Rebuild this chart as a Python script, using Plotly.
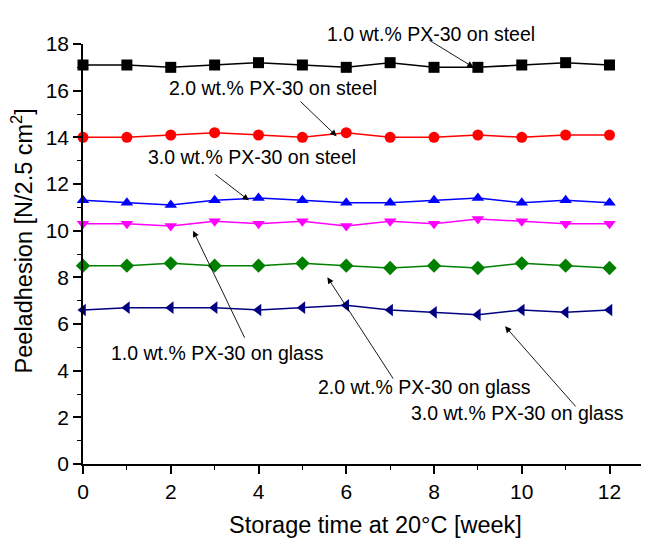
import plotly.graph_objects as go

weeks = list(range(13))
steel_1 = [17.1, 17.1, 17.0, 17.1, 17.2, 17.1, 17.0, 17.2, 17.0, 17.0, 17.1, 17.2, 17.1]
steel_2 = [14.0, 14.0, 14.1, 14.2, 14.1, 14.0, 14.2, 14.0, 14.0, 14.1, 14.0, 14.1, 14.1]
steel_3 = [11.3, 11.2, 11.1, 11.3, 11.4, 11.3, 11.2, 11.2, 11.3, 11.4, 11.2, 11.3, 11.2]
glass_1 = [10.3, 10.3, 10.2, 10.4, 10.3, 10.4, 10.2, 10.4, 10.3, 10.5, 10.4, 10.3, 10.3]
glass_2 = [8.5, 8.5, 8.6, 8.5, 8.5, 8.6, 8.5, 8.4, 8.5, 8.4, 8.6, 8.5, 8.4]
glass_3 = [6.6, 6.7, 6.7, 6.7, 6.6, 6.7, 6.8, 6.6, 6.5, 6.4, 6.6, 6.5, 6.6]

series = [
    (steel_1, "1.0 wt.% PX-30 on steel", "black", "square"),
    (steel_2, "2.0 wt.% PX-30 on steel", "red", "circle"),
    (steel_3, "3.0 wt.% PX-30 on steel", "blue", "triangle-up"),
    (glass_1, "1.0 wt.% PX-30 on glass", "magenta", "triangle-down"),
    (glass_2, "2.0 wt.% PX-30 on glass", "green", "diamond"),
    (glass_3, "3.0 wt.% PX-30 on glass", "navy", "triangle-left"),
]

# label text positions (data coords) and arrow tail/head
labels = [
    ("1.0 wt.% PX-30 on steel", 7.94, 19.0, (7.86, 18.2), (8.9, 17.0)),
    ("2.0 wt.% PX-30 on steel", 4.33, 16.1, (4.92, 15.6), (5.78, 14.05)),
    ("3.0 wt.% PX-30 on steel", 3.86, 13.16, (2.98, 12.46), (3.78, 11.3)),
    ("1.0 wt.% PX-30 on glass", 3.06, 4.76, (3.70, 5.35), (2.51, 10.0)),
    ("2.0 wt.% PX-30 on glass", 7.78, 3.3, (7.09, 3.6), (5.57, 8.0)),
    ("3.0 wt.% PX-30 on glass", 9.9, 2.19, (11.26, 2.4), (9.62, 5.9)),
]
x_title = "Storage time at 20°C [week]"
y_title = "Peeladhesion [N/2.5 cm<sup>2</sup>]"
y_max = 18

fig = go.Figure()
for ys, name, color, sym in series:
    fig.add_trace(go.Scatter(
        x=weeks, y=ys, mode="lines+markers", name=name,
        line=dict(color=color, width=1.5),
        marker=dict(color=color, symbol=sym, size=11),
        cliponaxis=False,
    ))

for text, tx, ty, tail, head in labels:
    if ty > y_max:
        fig.add_annotation(x=tx, y=ty / y_max, xref="x", yref="paper", text=text,
                           showarrow=False, font=dict(size=19.5, color="black"))
    else:
        fig.add_annotation(x=tx, y=ty, xref="x", yref="y", text=text, showarrow=False,
                           font=dict(size=19.5, color="black"))
    fig.add_annotation(x=head[0], y=head[1], ax=tail[0], ay=tail[1],
                       xref="x", yref="y", axref="x", ayref="y", text="",
                       showarrow=True, arrowhead=2, arrowsize=1.4, arrowwidth=0.9,
                       arrowcolor="black")

# axis titles as annotations (placed like the reference, slightly off-centre)
fig.add_annotation(x=0.516, y=-0.145, xref="paper", yref="paper", text=x_title,
                   showarrow=False, xanchor="center", yanchor="middle",
                   font=dict(size=23.5, color="black"))
fig.add_annotation(x=-0.107, y=0.531, xref="paper", yref="paper", text=y_title,
                   showarrow=False, xanchor="center", yanchor="middle", textangle=-90,
                   font=dict(size=23.5, color="black"))

axis_common = dict(
    showline=True, linecolor="black", linewidth=1.5, ticks="outside",
    ticklen=8, tickwidth=1.5, tickcolor="black", showgrid=False, zeroline=False,
    tickfont=dict(size=21, color="black"), automargin=False,
    minor=dict(dtick=1, ticks="outside", ticklen=4, tickwidth=1.2, tickcolor="black"),
)

fig.update_layout(
    width=649, height=539,
    margin=dict(l=75, r=8, t=36, b=83),
    plot_bgcolor="white", paper_bgcolor="white",
    font=dict(family="Arial, Liberation Sans, sans-serif", color="black"),
    showlegend=False,
    xaxis=dict(range=[0, 12.9], dtick=2, tick0=0, **axis_common),
    yaxis=dict(range=[0, y_max], dtick=2, tick0=0, **axis_common),
)

fig.write_html("out.html")
